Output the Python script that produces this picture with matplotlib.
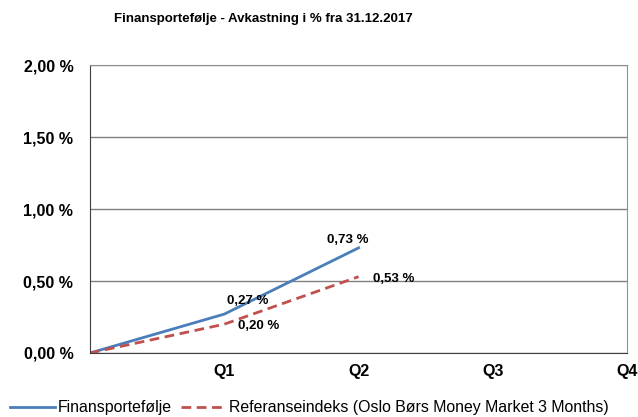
import matplotlib.pyplot as plt
import numpy as np

plt.rcParams['font.family'] = ['Liberation Sans', 'DejaVu Sans']

# data
kvartaler = ['', 'Q1', 'Q2', 'Q3', 'Q4']
portefolje = [0.0, 0.27, 0.73]
referanse = [0.0, 0.20, 0.53]
y_ticks = [0.0, 0.5, 1.0, 1.5, 2.0]

def pst(v):
    return f'{v:.2f} %'.replace('.', ',')

fig = plt.figure(figsize=(6.38, 4.17), dpi=100)
ax = fig.add_axes([0.141, 0.1535, 0.842, 0.6905])

x_p = np.arange(len(portefolje))
x_r = np.arange(len(referanse))
ax.plot(x_p, portefolje, color='#4a7ebb', lw=2, label='Finansportefølje')
ax.plot(x_r, referanse, color='#c0504d', lw=2, ls=(0, (3.5, 2)),
        label='Referanseindeks (Oslo Børs Money Market 3 Months)')

# datalabels (offset i punkter)
lbl = dict(textcoords='offset points', fontsize=9.5, fontweight='bold', ha='center', va='center')
ax.annotate(pst(portefolje[1]), (x_p[1], portefolje[1]), xytext=(17, 9.4), **lbl)
ax.annotate(pst(portefolje[2]), (x_p[2], portefolje[2]), xytext=(-7.6, 5.8), **lbl)
ax.annotate(pst(referanse[1]), (x_r[1], referanse[1]), xytext=(25, -1.4), **lbl)
ax.annotate(pst(referanse[2]), (x_r[2], referanse[2]), xytext=(25, -1.4), **lbl)

ax.set_xlim(0, 4)
ax.set_ylim(0, 2)
ax.set_xticks(range(len(kvartaler)))
ax.set_xticklabels(kvartaler, fontsize=11.5, fontweight='bold')
ax.set_yticks(y_ticks)
ax.set_yticklabels([pst(v) for v in y_ticks], fontsize=11.5, fontweight='bold')
ax.tick_params(length=0, pad=12)
ax.tick_params(axis='x', pad=8)
ax.grid(axis='y', color='#808080', lw=1)
ax.set_axisbelow(True)
for s in ['top', 'right']:
    ax.spines[s].set_color('#909090')
for s in ['left', 'bottom']:
    ax.spines[s].set_color('#404040')

fig.suptitle('Finansportefølje - Avkastning i % fra 31.12.2017', x=0.413, y=0.968,
             fontsize=9.5, fontweight='bold')

fig.legend(loc='lower left', bbox_to_anchor=(-0.006, -0.03), ncol=2, frameon=False,
           fontsize=11.4, handlelength=2.8, handletextpad=0.2, columnspacing=0.6)

fig.savefig('out.png')
